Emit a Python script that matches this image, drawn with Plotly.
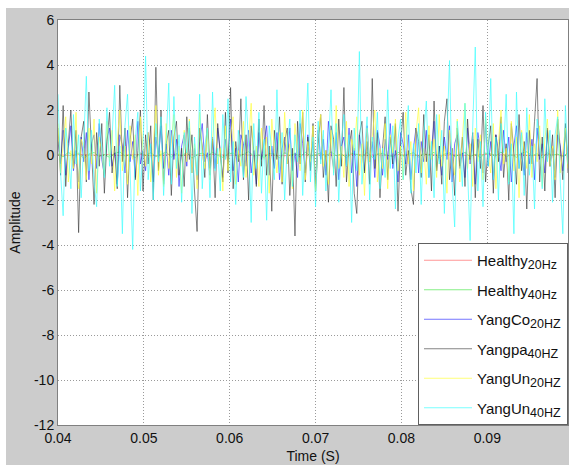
import numpy as np
import plotly.graph_objects as go

# ---- sample grids (seconds) ----
T0 = 0.04
DT_FAST = 0.0003      # vibration channels
DT_SLOW_G = 0.0006    # healthy 40 Hz
DT_SLOW_R = 0.0012    # healthy 20 Hz

# ---- amplitudes ----
healthy_20hz = [
    0.01, -0.02, 0.02, 0.00, -0.01, 0.03, -0.02, 0.01, 0.02, -0.03,
    0.00, 0.02, -0.01, 0.01, -0.02, 0.03, 0.00, -0.01, 0.02, -0.02,
    0.01, 0.00, -0.03, 0.02, 0.01, -0.01, 0.02, -0.02, 0.00, 0.03,
    -0.01, 0.01, -0.02, 0.02, 0.00, -0.01, 0.03, -0.02, 0.01, 0.00,
    -0.02, 0.02, 0.01, -0.01, 0.00, 0.02, -0.03, 0.01, 0.02, -0.01,
]

healthy_40hz = [
    0.05, -0.08, 0.12, -0.03, 0.09, -0.15, 0.04, 0.11, -0.06, 0.02,
    -0.10, 0.07, 0.14, -0.05, 0.01, -0.12, 0.08, -0.02, 0.10, -0.07,
    0.03, 0.13, -0.09, 0.06, -0.04, 0.11, -0.14, 0.02, 0.08, -0.06,
    0.12, -0.01, -0.10, 0.05, 0.09, -0.08, 0.03, 0.15, -0.05, 0.00,
    -0.11, 0.07, 0.04, -0.13, 0.10, -0.02, 0.06, -0.09, 0.12, -0.04,
    0.01, 0.09, -0.07, 0.14, -0.03, 0.05, -0.12, 0.08, 0.02, -0.06,
    0.11, -0.10, 0.04, 0.07, -0.01, -0.08, 0.13, -0.05, 0.03, 0.10,
    -0.09, 0.06, -0.02, 0.12, -0.14, 0.04, 0.09, -0.06, 0.01, 0.11,
    -0.07, 0.03, -0.11, 0.08, 0.05, -0.04, 0.13, -0.08, 0.02, -0.10,
    0.07, 0.14, -0.03, 0.06, -0.12, 0.09, -0.01, 0.04, -0.07, 0.10,
]

yangco_20hz = [
    0.6, -0.4, 1.1, -0.9, 0.3, 1.3, -0.7, 0.2, -1.2, 0.8,
    -0.3, 1.0, -1.1, 0.5, 0.9, -0.6, 1.4, -0.2, -0.9, 0.7,
    1.2, -0.5, 0.1, -1.3, 0.9, 0.4, -0.8, 1.1, -0.3, 0.6,
    -1.0, 1.5, -0.4, 0.2, -0.7, 1.0, 0.3, -1.2, 0.8, -0.1,
    1.3, -0.6, 0.5, -0.9, 1.1, -0.2, 0.7, -1.4, 0.4, 0.9,
    -0.5, 1.2, -0.8, 0.3, -1.1, 0.6, 1.4, -0.3, 0.1, -0.9,
    0.8, -0.6, 1.2, 0.2, -1.0, 0.7, -0.4, 1.6, -0.7, 0.3,
    -1.2, 0.9, 0.5, -0.5, 1.1, -0.8, 0.2, -1.3, 1.0, -0.2,
    0.6, 1.3, -0.9, 0.4, -0.6, 1.0, -1.1, 0.3, 0.8, -0.4,
    1.2, -0.7, 0.1, -1.0, 1.4, 0.5, -0.8, 0.9, -0.3, 0.6,
    -1.3, 1.1, -0.2, 0.7, -0.9, 1.5, 0.2, -0.6, 1.0, -1.1,
    0.4, 0.8, -0.5, 1.2, -0.8, 0.3, -1.4, 0.9, 0.1, -0.7,
    1.3, -0.3, 0.6, -1.0, 1.1, 0.4, -0.9, 0.7, -0.2, 1.4,
    -0.6, 0.2, -1.2, 1.0, 0.5, -0.4, 0.9, -1.1, 0.3, 1.2,
    -0.8, 0.6, -0.3, 1.1, -1.0, 0.2, 1.5, -0.7, 0.4, -0.9,
    0.8, -0.2, 1.3, -1.2, 0.5, 0.9, -0.6, 0.1, -1.0, 1.2,
    -0.4, 0.7, -1.3, 1.0, 0.3, -0.8, 1.4, -0.5, 0.6, -1.1,
    0.9, 0.2, -0.7, 1.1, -0.3, 0.8, -1.2, 0.4, 1.3, -0.6,
    0.1, -0.9, 1.0, -0.4, 0.7, -1.1, 1.2, -0.2, 0.5, -0.8,
    1.1, -0.5, 0.3, -1.0, 0.9, 0.4, -0.7, 1.2, -0.3,
]

yangpa_40hz = [
    1.2, -0.9, 2.2, -1.4, 0.5, 2.0, -0.6, 1.1, -3.45, 0.8,
    1.5, -1.2, 2.8, 0.3, -2.2, 1.0, -0.5, 1.4, -1.7, 0.6,
    1.9, -0.8, 0.4, -1.5, 3.1, -0.3, 1.2, -1.9, 0.7, 1.6,
    -1.1, 0.2, 2.0, -1.6, 0.9, -0.4, 1.3, -2.0, 3.9, -0.7,
    2.0, -1.3, 0.5, 1.1, -1.8, 0.8, 1.5, -0.9, 0.3, -1.4,
    1.7, -0.2, 0.9, -1.6, -3.4, 1.2, 0.4, -1.0, 1.8, -0.6,
    0.7, -1.9, 1.4, 0.1, -1.2, 1.9, -0.8, 3.0, -1.5, 0.6,
    -0.3, 2.5, -1.1, 0.9, -2.0, 1.3, 0.2, -1.4, 1.6, -0.5,
    2.2, -0.9, 0.4, -2.5, 1.1, -0.2, 1.7, -1.3, 0.6, 1.2,
    -1.8, 0.3, -3.6, 1.5, -0.4, 1.9, -1.2, 0.8, -0.7, 1.4,
    -1.6, 0.5, 1.8, -1.0, 0.2, -2.1, 1.3, 0.7, -1.4, 1.6,
    -0.5, 3.0, -1.2, 0.4, 1.1, -1.7, -2.6, 0.9, 1.5, -0.8,
    0.6, -1.3, 3.4, -0.6, 1.0, -1.9, 0.3, 1.7, -1.1, 0.8,
    -0.4, 1.4, -2.5, 0.5, 1.9, -0.9, 0.2, -1.5, -2.2, 1.2,
    0.6, -1.0, 1.8, -0.3, 0.9, -1.6, 2.4, -0.7, 0.4, -1.3,
    1.5, 2.5, -1.1, 0.3, -1.8, 1.2, -0.5, 0.8, -1.4, 1.6,
    -0.2, 1.0, -1.9, 0.7, -0.6, 2.2, -1.2, 0.4, 1.3, -1.7,
    0.9, -0.3, 1.7, -1.0, 0.5, -2.0, 1.4, 0.1, -1.3, 1.8,
    -0.7, 0.6, -2.4, 1.1, -0.4, 1.5, 3.4, -1.2, 0.8, -1.6,
    1.2, -0.5, 0.9, -1.9, 1.6, 0.3, -1.1, 1.4, -0.8,
]

yangun_20hz = [
    1.4, -0.8, 0.5, 1.7, -1.2, 0.2, -0.6, 1.9, -1.5, 0.7,
    0.3, -1.1, 1.2, -0.4, 1.6, -1.7, 0.8, 0.1, -0.9, 1.5,
    -0.3, 1.1, -1.6, 0.6, 2.0, -0.7, 0.4, -1.3, 1.3, -0.2,
    0.9, -1.8, 1.7, 0.3, -0.5, 1.0, -1.2, 0.6, 2.2, -0.9,
    0.2, -1.4, 1.4, -0.6, 0.8, 1.8, -1.0, 0.4, -1.7, 1.1,
    -0.3, 1.6, -0.8, 0.5, -1.5, 1.9, 0.1, -0.6, 1.2, -1.1,
    0.7, 2.1, -0.4, 0.3, -1.6, 1.3, -0.7, 0.9, 1.7, -1.3,
    0.2, -0.5, 1.5, -1.0, 0.6, 2.3, -0.9, 0.4, -1.4, 1.2,
    -0.2, 0.8, -1.7, 1.6, 0.3, -0.8, 1.0, -1.2, 1.9, -0.4,
    0.5, -1.5, 1.4, 0.1, -0.7, 2.0, -1.1, 0.6, -0.3, 1.3,
    -1.6, 0.9, 1.8, -0.5, 0.2, -1.3, 1.1, -0.8, 2.2, -0.6,
    0.4, -1.0, 1.5, -1.4, 0.7, 0.2, 1.7, -0.9, 0.5, -1.8,
    1.2, -0.3, 0.8, 2.0, -1.2, 0.3, -0.6, 1.4, -1.5, 0.9,
    0.1, 1.6, -0.7, 0.4, -1.1, 1.9, -0.4, 0.6, -1.6, 1.0,
    2.1, -0.8, 0.3, -1.3, 1.3, -0.2, 0.7, -1.0, 1.8, -0.5,
    0.4, -1.7, 1.1, 0.2, -0.9, 1.6, -1.2, 0.8, 2.3, -0.6,
    0.5, -1.4, 1.2, -0.3, 0.9, -1.1, 1.7, 0.1, -0.8, 1.4,
    -1.5, 0.6, 2.0, -0.4, 0.3, -1.2, 1.5, -0.7, 0.8, -1.9,
    1.1, 0.2, -0.6, 1.8, -1.0, 0.5, -0.3, 1.3, -1.4, 0.7,
    1.6, -0.5, 0.4, -1.1, 2.0, -0.8, 0.3, 1.2, -0.6,
]

yangun_40hz = [
    2.7, -0.8, -2.7, 1.2, 0.3, -1.5, 1.8, -0.4, 0.9, -1.9,
    0.6, 3.5, -0.7, 1.1, -1.2, -2.3, 1.6, 0.2, -1.0, 2.1,
    -0.5, 0.8, 3.1, -1.4, 0.4, -3.5, 1.3, 2.7, -0.9, -4.2,
    0.7, 1.9, -1.6, 0.2, 4.4, -1.1, 0.5, -2.0, 1.4, -0.3,
    1.7, -1.8, 0.6, 3.2, -1.3, 2.6, -0.6, 0.9, -2.1, 1.0,
    0.1, 1.5, -2.6, 0.8, -0.9, 2.7, -1.5, 0.4, 1.2, -1.9,
    2.8, -0.7, 0.3, -1.6, 1.8, -0.2, 2.5, -1.2, 0.6, -2.2,
    1.1, 0.0, -1.0, 2.6, 0.5, -3.0, 1.4, -0.6, 1.9, -1.7,
    0.7, -2.9, 1.3, 0.2, -1.1, 2.9, -0.8, 1.0, -2.0, 0.4,
    1.6, -1.4, 0.9, -0.3, 2.0, -1.8, 0.5, 3.2, -1.2, 0.8,
    -2.3, 1.5, -0.4, 1.1, -1.6, 0.3, 2.9, -0.9, 1.4, -2.1,
    0.6, 1.8, -0.5, 0.9, -3.0, 1.2, -0.7, 4.6, -1.3, 0.4,
    1.7, -2.0, 0.8, -0.2, 1.9, -1.5, 0.3, -1.0, 2.9, -0.6,
    1.3, -2.4, 0.7, 1.6, -1.1, 0.2, 2.2, -1.7, 0.5, -0.8,
    1.4, -2.2, 0.9, 2.4, -1.0, 0.6, -1.9, 1.8, -0.4, 1.1,
    -2.6, 0.8, 4.2, -1.2, -3.2, 1.5, 0.3, -1.4, 2.3, -0.7,
    -3.8, 1.2, 4.8, -1.6, 0.6, -2.3, 1.9, -0.5, 3.4, -1.1,
    0.8, -2.0, 1.4, 0.1, 2.7, -1.3, 0.5, -3.5, 2.8, -0.6,
    1.0, -1.8, 2.1, -0.9, 0.4, -2.4, 1.6, 0.7, -1.5, 2.5,
    -0.3, 1.1, -2.1, 0.9, 1.7, -1.2, -3.5, 2.2, -0.4,
]

# ---- axis ticks ----
x_ticks = [0.04, 0.05, 0.06, 0.07, 0.08, 0.09]
x_tick_text = ["0.04", "0.05", "0.06", "0.07", "0.08", "0.09"]
y_ticks = [-12, -10, -8, -6, -4, -2, 0, 2, 4, 6]
y_tick_text = ["-12", "-10", "-8", "-6", "-4", "-2", "0", "2", "4", "6"]


def time_axis(values, dt):
    return T0 + dt * np.arange(len(values))


def label(base, sub):
    return f"{base}<sub><span style='font-size:12.5px'>{sub}</span></sub>"


series = [
    (label("Healthy", "20Hz"), healthy_20hz, DT_SLOW_R, "#ff6a6a", 0.7),
    (label("Healthy", "40Hz"), healthy_40hz, DT_SLOW_G, "#50e850", 0.7),
    (label("YangCo", "20HZ"), yangco_20hz, DT_FAST, "#3a3aff", 0.7),
    (label("Yangpa", "40HZ"), yangpa_40hz, DT_FAST, "#333333", 0.6),
    (label("YangUn", "20HZ"), yangun_20hz, DT_FAST, "#ffff40", 0.7),
    (label("YangUn", "40HZ"), yangun_40hz, DT_FAST, "#40ffff", 0.7),
]

FONT = "Liberation Sans, Arial, sans-serif"

fig = go.Figure()
for i, (name, vals, dt, color, lw) in enumerate(series):
    fig.add_trace(go.Scatter(
        x=time_axis(vals, dt), y=vals, mode="lines", name=name,
        legendgroup=f"g{i}",
        line=dict(color=color, width=lw),
    ))

W, H = 569, 465
ML, MR, MT, MB = 58, 1, 20, 40
pw, ph = W - ML - MR, H - MT - MB

axis_common = dict(
    showgrid=True, gridcolor="#9a9a9a", griddash="1px,2px", gridwidth=1,
    zeroline=False, showline=True, linecolor="#808080", linewidth=1,
    mirror=True, ticks="", tickfont=dict(family=FONT, size=14, color="#111"),
)

fig.update_layout(
    width=W, height=H,
    margin=dict(l=ML, r=MR, t=MT, b=MB),
    paper_bgcolor="#cccccc", plot_bgcolor="white",
    font=dict(family=FONT, color="#111"),
    showlegend=True,
    legend=dict(
        x=1, y=0, xanchor="right", yanchor="bottom",
        bgcolor="white", bordercolor="#606060", borderwidth=1,
        font=dict(family=FONT, size=15, color="#111"),
        tracegroupgap=7, itemwidth=48,
    ),
    xaxis=dict(
        range=[0.04, 0.0994], tickvals=x_ticks, ticktext=x_tick_text,
        title=dict(text="Time (S)", font=dict(family=FONT, size=14), standoff=6),
        **axis_common,
    ),
    yaxis=dict(
        range=[-12, 6], tickvals=y_ticks, ticktext=y_tick_text,
        title=dict(text="Amplitude", font=dict(family=FONT, size=14), standoff=10),
        **axis_common,
    ),
    shapes=[
        # white strip along the top of the figure
        dict(type="rect", xref="paper", yref="paper", layer="below",
             x0=-ML / pw, x1=(W - ML) / pw, y0=1 + (MT - 8) / ph, y1=1 + MT / ph,
             fillcolor="white", line=dict(width=0)),
        # white strip along the left edge
        dict(type="rect", xref="paper", yref="paper", layer="below",
             x0=-ML / pw, x1=(6 - ML) / pw, y0=-MB / ph, y1=1 + MT / ph,
             fillcolor="white", line=dict(width=0)),
    ],
)

fig.write_html("out.html")
